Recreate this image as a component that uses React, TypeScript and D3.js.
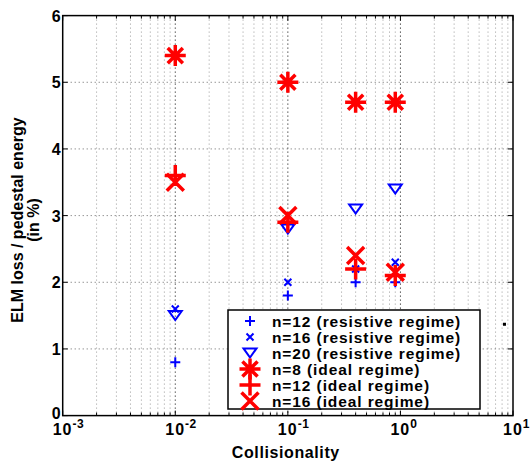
import React from "react";
import * as d3 from "d3";

const xTickExps = [-3, -2, -1, 0, 1];
const yTicks = [0, 1, 2, 3, 4, 5, 6];
const collisionality = [0.01, 0.1, 0.4, 0.9];

const res12 = [0.8, 1.8, 2.0, 2.0];
const res16 = [1.6, 2.0, 2.2, 2.3];
const res20 = [1.5, 2.8, 3.1, 3.4];
const ideal8 = [5.4, 5.0, 4.7, 4.7];
const ideal12 = [3.6, 2.9, 2.2, 2.1];
const ideal16 = [3.5, 3.0, 2.4, 2.15];

const strayX = [8.4];
const strayY = [1.37];

const legendLabels = [
  "n=12 (resistive regime)",
  "n=16 (resistive regime)",
  "n=20 (resistive regime)",
  "n=8 (ideal regime)",
  "n=12 (ideal regime)",
  "n=16 (ideal regime)",
];

const W = 531, H = 466;
const L = 62.7, R = 513, T = 15.6, B = 415.6;
const FONT = "'Liberation Sans', Arial, Helvetica, sans-serif";

type MK = "plus" | "x" | "tri" | "star";

function Marker({ kind, x, y, s, color, sw }: { kind: MK; x: number; y: number; s: number; color: string; sw: number }) {
  if (kind === "plus") {
    return <path d={`M${x - s},${y}H${x + s}M${x},${y - s}V${y + s}`} stroke={color} strokeWidth={sw} fill="none" />;
  }
  if (kind === "x") {
    return <path d={`M${x - s},${y - s}L${x + s},${y + s}M${x - s},${y + s}L${x + s},${y - s}`} stroke={color} strokeWidth={sw} fill="none" />;
  }
  if (kind === "tri") {
    return <path d={`M${x - s},${y - s * 0.7}L${x + s},${y - s * 0.7}L${x},${y + s * 0.7}Z`} stroke={color} strokeWidth={sw} fill="none" />;
  }
  const d = s * 0.72;
  return (
    <path
      d={`M${x - s},${y}H${x + s}M${x},${y - s}V${y + s}M${x - d},${y - d}L${x + d},${y + d}M${x - d},${y + d}L${x + d},${y - d}`}
      stroke={color}
      strokeWidth={sw}
      fill="none"
    />
  );
}

const seriesList: { vals: number[]; kind: MK; s: number; color: string; sw: number }[] = [
  { vals: res20, kind: "tri", s: 6.5, color: "#0000ff", sw: 2 },
  { vals: res12, kind: "plus", s: 5, color: "#0000ff", sw: 2 },
  { vals: res16, kind: "x", s: 3.5, color: "#0000ff", sw: 2 },
  { vals: ideal8, kind: "star", s: 10.5, color: "#ff0000", sw: 3.5 },
  { vals: ideal12, kind: "plus", s: 10.5, color: "#ff0000", sw: 3.5 },
  { vals: ideal16, kind: "x", s: 8.5, color: "#ff0000", sw: 3.5 },
];

const legendOrder = [1, 2, 0, 3, 4, 5];

export default function App() {
  const x = d3.scaleLog().domain([1e-3, 10]).range([L, R]);
  const y = d3.scaleLinear().domain([0, 6]).range([B, T]);

  const minor: number[] = [];
  for (let e = -3; e < 1; e++) for (let m = 2; m <= 9; m++) minor.push(m * Math.pow(10, e));
  const major = xTickExps.map((e) => Math.pow(10, e));

  const lx0 = 228, ly0 = 310, lx1 = 480, ly1 = 409;
  const rowH = 16;

  return (
    <svg width={W} height={H} style={{ position: "absolute", left: 0, top: 0, background: "#fff" }} fontFamily={FONT}>
      <rect x={0} y={0} width={W} height={H} fill="#fff" />
      {/* grid */}
      {minor.map((v, i) => (
        <line key={"gm" + i} x1={x(v)} x2={x(v)} y1={T} y2={B} stroke="#999" strokeWidth={1} strokeDasharray="1 3" />
      ))}
      {major.slice(1, -1).map((v, i) => (
        <line key={"gM" + i} x1={x(v)} x2={x(v)} y1={T} y2={B} stroke="#000" strokeWidth={1} strokeDasharray="1 3" />
      ))}
      {yTicks.slice(1, -1).map((v, i) => (
        <line key={"gy" + i} x1={L} x2={R} y1={y(v)} y2={y(v)} stroke="#666" strokeWidth={1} strokeDasharray="1 3" />
      ))}
      {/* ticks */}
      {minor.map((v, i) => (
        <g key={"tm" + i} stroke="#000" strokeWidth={1}>
          <line x1={x(v)} x2={x(v)} y1={B} y2={B - 3} />
          <line x1={x(v)} x2={x(v)} y1={T} y2={T + 3} />
        </g>
      ))}
      {major.map((v, i) => (
        <g key={"tM" + i} stroke="#000" strokeWidth={1}>
          <line x1={x(v)} x2={x(v)} y1={B} y2={B - 5} />
          <line x1={x(v)} x2={x(v)} y1={T} y2={T + 5} />
        </g>
      ))}
      {yTicks.map((v, i) => (
        <g key={"ty" + i} stroke="#000" strokeWidth={1}>
          <line x1={L} x2={L + 5} y1={y(v)} y2={y(v)} />
          <line x1={R} x2={R - 5} y1={y(v)} y2={y(v)} />
        </g>
      ))}
      {/* data */}
      {seriesList.map((s, si) =>
        s.vals.map((v, i) => (
          <Marker key={si + "-" + i} kind={s.kind} x={x(collisionality[i])} y={y(v)} s={s.s} color={s.color} sw={s.sw} />
        ))
      )}
      {strayX.map((v, i) => (
        <rect key={"st" + i} x={x(v) - 1.5} y={y(strayY[i]) - 1.5} width={3} height={3} fill="#000" />
      ))}
      {/* box */}
      <rect x={L} y={T} width={R - L} height={B - T} fill="none" stroke="#000" strokeWidth={1.5} />
      {/* legend */}
      <rect x={lx0} y={ly0} width={lx1 - lx0} height={ly1 - ly0} fill="#fff" stroke="#000" strokeWidth={1.5} />
      {legendOrder.map((si, r) => {
        const s = seriesList[si];
        const cy = ly0 + 11 + r * rowH;
        return (
          <g key={"lg" + r}>
            <Marker kind={s.kind} x={250} y={cy} s={s.s} color={s.color} sw={s.sw} />
            <text x={272} y={cy + 5.5} fontSize={15.5} fontWeight="bold" letterSpacing={0.9} fill="#000">
              {legendLabels[r]}
            </text>
          </g>
        );
      })}
      {/* y tick labels */}
      {yTicks.map((v, i) => (
        <text key={"yl" + i} x={L - 2} y={y(v) + (v === 0 ? 3.5 : 6)} textAnchor="end" fontSize={16} fontWeight="bold">
          {v}
        </text>
      ))}
      {/* x tick labels */}
      {xTickExps.map((e, i) => {
        const cx = x(Math.pow(10, e));
        return (
          <text key={"xl" + i} x={cx - 10} y={435} fontSize={16} fontWeight="bold" letterSpacing={1}>
            10
            <tspan dy={-7} fontSize={12} letterSpacing={0.5}>
              {e}
            </tspan>
          </text>
        );
      })}
      <text x={(L + R) / 2 - 2} y={458} textAnchor="middle" fontSize={16} fontWeight="bold" letterSpacing={0.6}>
        Collisionality
      </text>
      <g transform={`translate(23, 220) rotate(-90)`}>
        <text x={0} y={0} textAnchor="middle" fontSize={16} fontWeight="bold">
          ELM loss / pedestal energy
        </text>
        <text x={0} y={16} textAnchor="middle" fontSize={16} fontWeight="bold">
          (in %)
        </text>
      </g>
    </svg>
  );
}
